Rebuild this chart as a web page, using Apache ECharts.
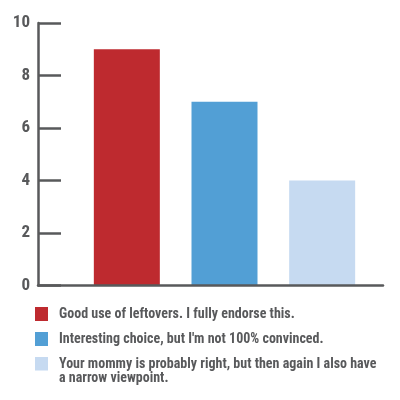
<!DOCTYPE html>
<html>
<head>
<meta charset="utf-8">
<script src="https://cdn.jsdelivr.net/npm/echarts@6/dist/echarts.min.js"></script>
<style>html,body{margin:0;padding:0;background:#fff}#c{width:400px;height:400px}</style>
</head>
<body>
<div id="c"></div>
<script>
const categories = ['A', 'B', 'C'];
const seriesNames = [
  'Good use of leftovers. I fully endorse this.',
  "Interesting choice, but I'm not 100% convinced.",
  'Your mommy is probably right, but then again I also have\na narrow viewpoint.'
];
const values = [9, 7, 4];
const yMin = 0, yMax = 10, yStep = 2;

const palette = ['#be2a2f', '#529fd5', '#c6daf1'];
const FONT = "'Roboto Condensed', 'Liberation Sans Narrow', 'DejaVu Sans Condensed', sans-serif";
const GRAY = '#58595b';

const chart = echarts.init(document.getElementById('c'), null, {renderer: 'canvas'});

const series = seriesNames.map((name, i) => ({
  name: name,
  type: 'bar',
  xAxisIndex: 1,
  yAxisIndex: 1,
  stack: 'all',
  barWidth: 66,
  itemStyle: {color: palette[i]},
  data: categories.map((c, j) => (j === i ? values[i] : '-')),
  z: 1
}));

const legendTops = [307, 332, 357];
const legends = seriesNames.map((name, i) => ({
  orient: 'vertical',
  left: 35,
  top: legendTops[i],
  padding: 0,
  itemWidth: 13,
  itemHeight: i === 2 ? 28 : 14,
  selectedMode: false,
  data: [{name: name, icon: i === 2 ? 'path://M0,0h13v13.5h-13z M0,28h13' : 'rect'}],
  textStyle: {
    fontFamily: FONT,
    fontWeight: 'bold',
    fontSize: 14,
    color: GRAY,
    lineHeight: 14,
    padding: [0, 0, 0, 6]
  }
}));

chart.setOption({
  animation: false,
  backgroundColor: '#fff',
  grid: [
    {left: 38, right: 17, top: 23, bottom: 114.5},
    {left: 78, right: 29, top: 23, bottom: 114.5}
  ],
  legend: legends,
  xAxis: [
    {
      type: 'category', gridIndex: 0, data: [''],
      axisLine: {show: true, lineStyle: {color: GRAY, width: 2.5}},
      axisTick: {show: false}, axisLabel: {show: false}, splitLine: {show: false}, z: 5
    },
    {
      type: 'category', gridIndex: 1, data: categories, show: false
    }
  ],
  yAxis: [
    {
      type: 'value', gridIndex: 0, min: yMin, max: yMax, interval: yStep,
      axisLine: {show: true, lineStyle: {color: GRAY, width: 2.5}},
      axisTick: {show: true, inside: true, length: 23, lineStyle: {color: GRAY, width: 2.5}},
      axisLabel: {fontFamily: FONT, fontWeight: 'bold', fontSize: 17, color: GRAY, margin: 8},
      splitLine: {show: false}, z: 5
    },
    {
      type: 'value', gridIndex: 1, min: yMin, max: yMax, interval: yStep, show: false
    }
  ],
  series: series
});
</script>
</body>
</html>
